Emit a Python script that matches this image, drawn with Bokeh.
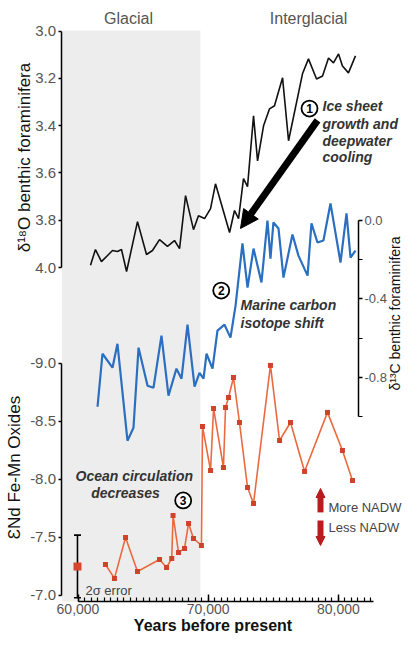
import math
from bokeh.plotting import figure
from bokeh.models import (Range1d, LinearAxis, FixedTicker, PrintfTickFormatter,
                          NumeralTickFormatter, BoxAnnotation, Label, Arrow, NormalHead,
                          Whisker, TeeHead, ColumnDataSource)
from bokeh.embed import file_html
from bokeh.resources import INLINE

# ---------------- data ----------------
d18o_years = [60960, 61340, 61800, 62270, 62650, 63030, 63340, 63730, 64570, 65260,
              65720, 66260, 66870, 67410, 67800, 68260, 68870, 69250, 69720, 70180,
              70560, 71640, 72020, 72330, 72710, 73020, 73480, 73790, 74250, 74710,
              75090, 75710, 76170, 77240, 77700, 78320, 78780, 79240, 79620, 80010,
              80310, 80770, 81310]
d18o_vals = [3.99, 3.924, 3.975, 3.949, 3.928, 3.932, 3.924, 4.017, 3.806, 3.945,
             3.928, 3.882, 3.911, 3.886, 3.920, 3.696, 3.840, 3.781, 3.793, 3.751,
             3.646, 3.852, 3.759, 3.793, 3.624, 3.658, 3.359, 3.549, 3.401, 3.329,
             3.316, 3.198, 3.464, 3.181, 3.118, 3.203, 3.190, 3.114, 3.135, 3.097,
             3.148, 3.177, 3.105]

d13c_years = [61500, 61880, 62650, 63030, 63800, 64260, 64650, 65340, 65800, 66410,
              66950, 67560, 67950, 68410, 68950, 69330, 69640, 69870, 70330, 70710,
              71250, 71710, 72100, 72630, 73020, 73480, 74090, 74550, 74780, 75010,
              75400, 75780, 76470, 76930, 77630, 77930, 78390, 78850, 79390, 80160,
              80620, 80930, 81310]
d13c_vals = [-0.949, -0.679, -0.750, -0.628, -1.122, -1.056, -0.648, -0.842, -0.852, -0.587,
             -0.893, -0.755, -0.806, -0.531, -0.847, -0.776, -0.806, -0.679, -0.755, -0.561,
             -0.531, -0.597, -0.434, -0.117, -0.342, -0.143, -0.316, 0.0, -0.194, -0.010,
             -0.041, -0.291, -0.071, -0.179, -0.281, -0.015, -0.112, -0.102, 0.087, -0.214,
             0.036, -0.189, -0.153]

nd_years = [62110, 62800, 63650, 64570, 66260, 66800, 67200, 67300, 67720, 68180,
            68490, 68870, 69480, 69560, 70180, 70410, 71170, 71330, 71560, 71940,
            72400, 73020, 73480, 74780, 75480, 76320, 77400, 79160, 80310, 81080]
nd_vals = [-7.267, -7.147, -7.500, -7.207, -7.310, -7.241, -7.319, -7.690, -7.371, -7.405,
           -7.621, -7.491, -7.431, -8.457, -8.078, -8.612, -8.103, -8.621, -8.707, -8.879,
           -8.491, -7.931, -7.793, -8.983, -8.336, -8.491, -8.069, -8.578, -8.250, -7.991]

err_year = [59960]
err_center = [-7.25]
err_half = [0.27]

glacial_start = 58770
glacial_end = 69400

x_ticks = [60000, 70000, 80000]
d18o_ticks = [3.0, 3.2, 3.4, 3.6, 3.8, 4.0]
nd_ticks = [-9.0, -8.5, -8.0, -7.5, -7.0]
d13c_ticks = [0.0, -0.4, -0.8]
d13c_minor = [-0.2, -0.6, -1.0]

# axis placement (data units of the crossing range)
left_axis_at = 58770
right_axis_at = 81542
bottom_axis_at = 5.412

# ---------------- figure ----------------
FONT = "Liberation Sans"
TICKC = "#555555"

p = figure(width=403, height=633, x_range=Range1d(54048, 84998),
           y_range=Range1d(5.5476, 2.871), output_backend="svg", toolbar_location=None,
           min_border=0, min_border_left=0, min_border_right=0, min_border_top=0,
           min_border_bottom=0)
p.extra_y_ranges = {"c13": Range1d(-2.1045, 1.121), "nd": Range1d(-6.672, -12.129)}
p.grid.visible = False
p.outline_line_color = None


def style_axis(ax, tick_out=3, tick_in=0, standoff=3, size="15px"):
    ax.axis_line_color = "black"
    ax.axis_line_width = 1.5
    ax.major_tick_line_color = "black"
    ax.major_tick_line_width = 1.5
    ax.minor_tick_line_color = "black"
    ax.minor_tick_line_width = 1.2
    ax.major_tick_out = tick_out
    ax.major_tick_in = tick_in
    ax.major_label_standoff = standoff
    ax.major_label_text_font = FONT
    ax.major_label_text_font_size = size
    ax.major_label_text_color = TICKC


# x axis
xa = p.xaxis[0]
xa.ticker = FixedTicker(ticks=x_ticks, minor_ticks=list(range(60000, 82700, 500)))
xa.formatter = NumeralTickFormatter(format="0,0")
xa.bounds = (60000, 82690)
xa.fixed_location = bottom_axis_at
style_axis(xa, tick_out=0, tick_in=7, standoff=3, size="14px")
xa.minor_tick_in = 4
xa.minor_tick_out = 0

# left d18O axis
ya = p.yaxis[0]
ya.ticker = FixedTicker(ticks=d18o_ticks)
ya.formatter = PrintfTickFormatter(format="%.1f")
ya.bounds = (3.0, 4.0)
ya.fixed_location = left_axis_at
style_axis(ya)
ya.minor_tick_line_color = None

# left eNd axis
nd_axis = LinearAxis(y_range_name="nd", ticker=FixedTicker(ticks=nd_ticks),
                     formatter=PrintfTickFormatter(format="%.1f"), bounds=(-9.0, -7.0),
                     fixed_location=left_axis_at)
style_axis(nd_axis)
nd_axis.minor_tick_line_color = None
p.add_layout(nd_axis, "left")

# right d13C axis
c_axis = LinearAxis(y_range_name="c13",
                    ticker=FixedTicker(ticks=d13c_ticks, minor_ticks=d13c_minor),
                    formatter=PrintfTickFormatter(format="%.1f"), bounds=(-1.0, 0.0),
                    fixed_location=right_axis_at)
style_axis(c_axis, tick_out=4, standoff=2, size="13px")
c_axis.minor_tick_out = 4
c_axis.minor_tick_in = 0
p.add_layout(c_axis, "right")

# glacial shading
p.add_layout(BoxAnnotation(left=glacial_start, right=glacial_end, top=2.998,
                           bottom=bottom_axis_at, fill_color="#ededed", fill_alpha=1.0,
                           line_color=None, level="underlay"))

# series
p.line(d18o_years, d18o_vals, color="#111111", line_width=1.6)
p.line(d13c_years, d13c_vals, y_range_name="c13", color="#2a6fc0", line_width=2.2)
p.line(nd_years, nd_vals, y_range_name="nd", color="#ea6a40", line_width=1.6)
p.scatter(nd_years, nd_vals, y_range_name="nd", marker="square", size=5,
          fill_color="#cf432b", line_color=None)

# error bar
esrc = ColumnDataSource(dict(base=err_year,
                             lower=[c - h for c, h in zip(err_center, err_half)],
                             upper=[c + h for c, h in zip(err_center, err_half)]))
p.add_layout(Whisker(source=esrc, base="base", lower="lower", upper="upper",
                     dimension="height", y_range_name="nd", line_color="black",
                     line_width=1.6,
                     upper_head=TeeHead(size=7, line_width=1.6, line_color="black"),
                     lower_head=TeeHead(size=7, line_width=1.6, line_color="black")))
p.scatter(err_year, err_center, y_range_name="nd", marker="square", size=8,
          fill_color="#d9452b", line_color=None)


def label(x, y, text, size="15px", color="#333333", style="normal", align="left",
          angle=0.0, rng="default", baseline="middle"):
    p.add_layout(Label(x=x, y=y, text=text, y_range_name=rng, text_font=FONT,
                       text_font_size=size, text_color=color, text_font_style=style,
                       text_align=align, text_baseline=baseline, angle=angle))


# axis titles
label(55891, 3.535, "δ¹⁸O benthic foraminifera", size="17px", color="#111111",
      align="center", angle=math.pi / 2)
label(55123, -8.103, "ƐNd Fe-Mn Oxides", size="17px", color="#111111",
      align="center", angle=math.pi / 2, rng="nd")
label(84355, -0.474, "δ¹³C benthic foraminifera", size="14px", color="#111111",
      align="center", angle=math.pi / 2, rng="c13")
label(70368, -6.741, "Years before present", size="16px", color="#111111",
      style="bold", align="center", rng="nd")

# period labels
label(63878, 2.947, "Glacial", size="16px", color="#555555", align="center")
label(77702, 2.947, "Interglacial", size="16px", color="#555555", align="center")

# big arrow
p.add_layout(Arrow(end=NormalHead(size=18, fill_color="black", line_color="black"),
                   x_start=78394, y_start=3.378, x_end=72480, y_end=3.835,
                   line_width=7, line_color="black"))

# numbered circles
p.scatter([77779], [3.328], marker="circle", size=16, fill_color="white",
          line_color="black", line_width=1.8)
p.scatter([71000], [-0.357], y_range_name="c13", marker="circle", size=16,
          fill_color="white", line_color="black", line_width=1.8)
p.scatter([68079], [-7.819], y_range_name="nd", marker="circle", size=16,
          fill_color="white", line_color="black", line_width=1.8)
label(77779, 3.328, "1", size="12px", color="black", style="bold", align="center")
label(71000, -0.357, "2", size="12px", color="black", style="bold", align="center", rng="c13")
label(68079, -7.819, "3", size="12px", color="black", style="bold", align="center", rng="nd")

# annotations
for yy, t in zip([3.315, 3.395, 3.463, 3.531], ["Ice sheet", "growth and", "deepwater", "cooling"]):
    label(78778, yy, t, size="14px", style="bold italic")
label(72480, -0.433, "Marine carbon", size="14px", style="bold italic", rng="c13")
label(72480, -0.520, "isotope shift", size="14px", style="bold italic", rng="c13")
label(59808, -8.034, "Ocean circulation", size="14px", style="bold italic", rng="nd")
label(63648, -7.879, "decreases", size="14px", style="bold italic", align="center", rng="nd")

# NADW legend
RED = "#b81c1c"
p.add_layout(Arrow(end=NormalHead(size=9, fill_color=RED, line_color=RED),
                   x_start=78624, y_start=-7.716, x_end=78624, y_end=-7.922,
                   y_range_name="nd", line_width=6, line_color=RED))
p.add_layout(Arrow(end=NormalHead(size=9, fill_color=RED, line_color=RED),
                   x_start=78624, y_start=-7.647, x_end=78624, y_end=-7.431,
                   y_range_name="nd", line_width=6, line_color=RED))
label(79238, -7.759, "More NADW", size="13px", color="#444444", rng="nd")
label(79238, -7.586, "Less NADW", size="13px", color="#444444", rng="nd")
label(60576, -7.045, "2σ error", size="13px", color="#444444", rng="nd")

open("out.html", "w").write(file_html(p, INLINE))
